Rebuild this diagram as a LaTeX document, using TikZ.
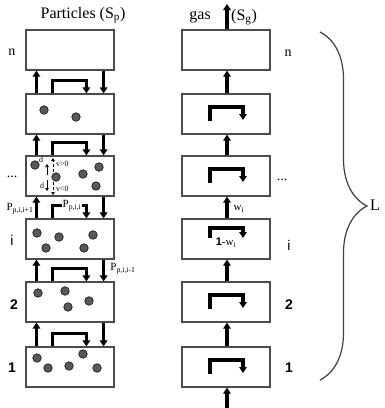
\documentclass[tikz,border=0pt]{standalone}
\usepackage{fontspec}
\setmainfont{Liberation Serif}
\setsansfont{Liberation Sans}
\usepackage{tikz}
\usetikzlibrary{arrows.meta,calc,positioning,decorations.pathreplacing}

\begin{document}
\begin{tikzpicture}[x=1pt,y=-1pt,>={Triangle[length=6pt,width=7.5pt]},
  cell/.style={draw=black!70,line width=1.2pt,minimum width=88pt,minimum height=40pt,inner sep=0pt},
  flow/.style={->,line width=3.3pt},
  tiny flow/.style={-{Triangle[length=3pt,width=3.5pt]},line width=0.8pt},
  ttl/.style={font=\fontsize{16}{18}\selectfont,inner sep=0pt},
  row/.style={font=\fontsize{14}{16}\selectfont,inner sep=0pt},
  num/.style={font=\sffamily\bfseries\fontsize{14}{16}\selectfont,inner sep=0pt},
  plab/.style={font=\fontsize{11}{13}\selectfont,inner sep=0.5pt},
  small/.style={font=\fontsize{8}{9}\selectfont,inner sep=0pt}]
\useasboundingbox (0,0) rectangle (384,408);

% particle column
\node[cell] (pn) at (70,50) {};
\node[cell] (p5) at (70,114) {};
\node[cell] (pd) at (70,176) {};
\node[cell] (pi) at (70,239) {};
\node[cell] (p2) at (70,302) {};
\node[cell] (p1) at (70,367) {};
% gas column
\node[cell] (gn) at (226,50) {};
\node[cell] (g5) at (226,114) {};
\node[cell] (gd) at (226,176) {};
\node[cell] (gi) at (226,239) {};
\node[cell] (g2) at (226,302) {};
\node[cell] (g1) at (226,367) {};

\foreach \lo/\hi in {p1/p2,p2/pi,pi/pd,pd/p5,p5/pn}{
  \draw[flow] ([xshift=11pt]\lo.north west) -- ([xshift=11pt]\hi.south west);
  \draw[flow] ([xshift=-11pt]\hi.south east) -- ([xshift=-11pt]\lo.north east);
  \draw[flow] ([xshift=27pt]\lo.north west) -- ([xshift=27pt,yshift=13pt]\lo.north west) -| ([xshift=61pt]\lo.north west);
}

\coordinate (gasin) at (227,408);
\coordinate (gasout) at (227,4);
\draw[flow] (gasin) -- ([xshift=1pt]g1.south);
\foreach \lo/\hi in {g1/g2,g2/gi,gi/gd,gd/g5,g5/gn}
  \draw[flow] ([xshift=1pt]\lo.north) -- ([xshift=1pt]\hi.south);
\draw[flow] ([xshift=1pt]gn.north) -- (gasout);
\foreach \cel in {g1,g2,gd,g5}
  \draw[flow] ([xshift=-16pt,yshift=-7pt]\cel.center) -- ([xshift=-16pt,yshift=7pt]\cel.center) -- ([xshift=17pt,yshift=7pt]\cel.center) -- ([xshift=17pt,yshift=-6pt]\cel.center);
\draw[flow] ([xshift=-16pt,yshift=1pt]gi.center) -- ([xshift=-16pt,yshift=11pt]gi.center) -- ([xshift=17pt,yshift=11pt]gi.center) -- ([xshift=17pt,yshift=1pt]gi.center);

% particles
\foreach \x/\y in {44/110,76/117,35/165,56/177,83/174,99/167,96/186,37/233,59/237,93/235,46/248,84/248,38/293,65/291,68/307,89/301,37/358,48/368,69/366,83/354,97/368}
  \filldraw[fill=black!65,draw=black,line width=0.5pt] (\x,\y) circle (4.3);

% velocity and size marks
\draw[tiny flow,densely dashed] (53,172) -- (53,158);
\draw[tiny flow,densely dashed] (53,182) -- (53,195);
\draw[tiny flow] (47,175) -- (47,164);
\draw[tiny flow] (47,180) -- (47,191);
\node[small] (dup) at (41,160) {d};
\node[small] (dlo) at (42,186) {d};
\node[small,anchor=west] (vpos) at (56,164) {v>0};
\node[small,anchor=west] (vneg) at (56,189) {v<0};

% titles
\node[ttl] (ptitle) at (83,15) {Particles (S\textsubscript{p})};
\node[ttl,anchor=east] (gtitle) at (211,17) {gas};
\node[ttl,anchor=west] (sg) at (231,17) {(S\textsubscript{g})};

% row labels
\node[row] (ln) at (12,52) {n};
\node[row] (ld) at (12,177) {...};
\node[num,font=\sffamily\fontsize{14}{16}\selectfont] (li) at (12,240) {i};
\node[num] (l2) at (14,305) {2};
\node[num] (l1) at (12,368) {1};
\node[row] (rn) at (288,53) {n};
\node[row] (rd) at (282,180) {...};
\node[num,font=\sffamily\fontsize{14}{16}\selectfont] (ri) at (289,245) {i};
\node[num] (r2) at (289,305) {2};
\node[num] (r1) at (289,368) {1};

% transfer labels
\node[plab] (pup) at (20,209) {P\textsubscript{p,i,i+1}};
\node[plab,fill=white] (pstay) at (72,206) {P\textsubscript{p,i,i}};
\node[plab] (pdown) at (123,269) {P\textsubscript{p,i,i-1}};
\node[plab] (wup) at (239,209) {w\textsubscript{i}};
\node[plab] (wstay) at (226,243) {\textsf{\textbf{1}}-w\textsubscript{i}};

% bed height
\draw[line width=1.2pt,black!75,decorate,decoration={brace,amplitude=47pt}] (320,32) -- (320,380);
\node[ttl] (len) at (375,205) {L};
\end{tikzpicture}
\end{document}
